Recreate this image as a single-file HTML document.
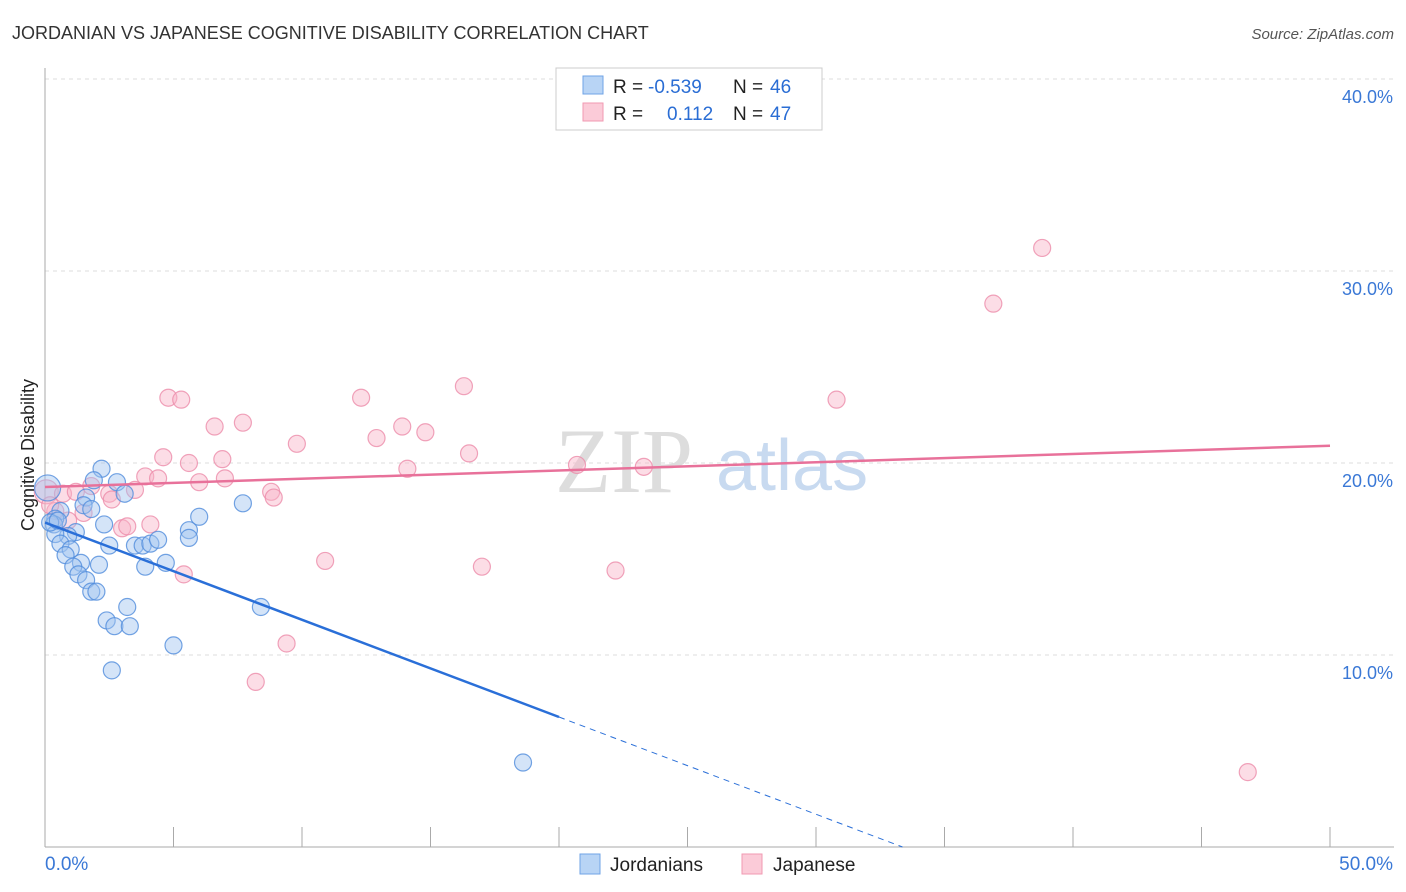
<!DOCTYPE html>
<html><head><meta charset="utf-8"><style>
body{margin:0;background:#fff;font-family:"Liberation Sans",sans-serif;}
#wrap{position:relative;width:1406px;height:892px;overflow:hidden;}
</style></head><body>
<div id="wrap">
<svg id="svg" width="1406" height="892" xmlns="http://www.w3.org/2000/svg">
<text x="12" y="39" font-size="18" fill="#333">JORDANIAN VS JAPANESE COGNITIVE DISABILITY CORRELATION CHART</text>
<text x="1394" y="39" font-size="15" fill="#555" text-anchor="end" font-style="italic">Source: ZipAtlas.com</text>
<text x="555" y="492" font-size="92" fill="#ddd" font-family="Liberation Serif">ZIP</text>
<text x="716" y="490" font-size="72" fill="#c8daf0">atlas</text>
<g id="grid"></g><g id="axes"></g><g id="pts"></g><g id="lines"></g>
<text transform="translate(34,455) rotate(-90)" font-size="18" fill="#222" text-anchor="middle">Cognitive Disability</text>
<g>
<rect x="556" y="68" width="266" height="62" fill="#fff" stroke="#ccc"/>
<rect x="583" y="76" width="20" height="18" fill="#b8d4f5" stroke="#6fa3e6"/>
<rect x="583" y="103" width="20" height="18" fill="#fbcbd8" stroke="#f09ab2"/>
<text y="93" font-size="19" fill="#222"><tspan x="613">R =</tspan><tspan x="648" fill="#2a6dd4">-0.539</tspan><tspan x="733">N =</tspan><tspan x="770" fill="#2a6dd4">46</tspan></text>
<text y="120" font-size="19" fill="#222"><tspan x="613">R =</tspan><tspan x="667" fill="#2a6dd4">0.112</tspan><tspan x="733">N =</tspan><tspan x="770" fill="#2a6dd4">47</tspan></text>
</g>
<g>
<rect x="580" y="854" width="20" height="20" fill="#b8d4f5" stroke="#6fa3e6"/>
<text x="610" y="871" font-size="19" fill="#222">Jordanians</text>
<rect x="742" y="854" width="20" height="20" fill="#fbcbd8" stroke="#f09ab2"/>
<text x="773" y="871" font-size="19" fill="#222">Japanese</text>
</g>
</svg>
</div>
<script>
const yTicks=[10,20,30,40];
const xTickLabels=["0.0%","50.0%"];
const blueX=[0.1,2.2,2.8,1.9,3.1,1.6,0.6,1.5,0.4,0.35,2.3,1.2,0.9,0.4,0.6,2.5,1.0,3.5,3.8,4.1,4.4,5.6,5.6,6.0,7.7,0.8,1.4,2.1,1.1,1.3,1.6,1.8,2.0,3.2,8.4,2.4,2.7,3.3,5.0,2.6,3.9,4.7,18.6,1.8,0.2,0.5];
const blueY=[18.7,19.7,19.0,19.1,18.4,18.2,17.5,17.8,17.1,16.8,16.8,16.4,16.2,16.3,15.8,15.7,15.5,15.7,15.7,15.8,16.0,16.5,16.1,17.2,17.9,15.2,14.8,14.7,14.6,14.2,13.9,13.3,13.3,12.5,12.5,11.8,11.5,11.5,10.5,9.2,14.6,14.8,4.4,17.6,16.9,17.0];
const pinkX=[0.05,38.8,36.9,16.3,4.8,5.3,12.3,7.7,6.6,13.9,14.8,12.9,9.8,4.6,6.9,5.6,16.5,14.1,20.7,23.3,30.8,3.9,4.4,6.0,7.0,8.8,8.9,1.8,2.5,0.7,1.2,2.6,3.5,0.4,1.5,0.9,3.0,3.2,4.1,5.4,10.9,17.0,22.2,9.4,8.2,46.8,0.2];
const pinkY=[18.5,31.2,28.3,24.0,23.4,23.3,23.4,22.1,21.9,21.9,21.6,21.3,21.0,20.3,20.2,20.0,20.5,19.7,19.9,19.8,23.3,19.3,19.2,19.0,19.2,18.5,18.2,18.8,18.4,18.4,18.5,18.1,18.6,17.5,17.4,17.0,16.6,16.7,16.8,14.2,14.9,14.6,14.4,10.6,8.6,3.9,17.8];
const blueTrend=[16.9,6.77,20];const pinkTrend=[18.75,20.9];
const sx=v=>45+v*25.7, sy=v=>847-v*19.2;
const NS="http://www.w3.org/2000/svg";
function mk(t,a,p){const e=document.createElementNS(NS,t);for(const k in a)e.setAttribute(k,a[k]);p.appendChild(e);return e;}
const grid=document.getElementById('grid'),axes=document.getElementById('axes'),pts=document.getElementById('pts'),lines=document.getElementById('lines');
yTicks.forEach(t=>{
const g=mk('line',{x1:45,x2:1394,y1:sy(t),y2:sy(t),stroke:'#ddd','stroke-dasharray':'4,4'},grid);


const l=mk('text',{x:1393,y:sy(t)+24,'font-size':18,fill:'#3a78d6','text-anchor':'end'},axes);l.textContent=t.toFixed(1)+'%';


});
const ya=mk('line',{x1:45,x2:45,y1:68,y2:847,stroke:'#aaa'},axes);


const xa=mk('line',{x1:45,x2:1394,y1:847,y2:847,stroke:'#aaa'},axes);


for(let i=0;i<=10;i++){const tk=mk('line',{x1:sx(i*5),x2:sx(i*5),y1:827,y2:847,stroke:'#aaa'},axes);

}
const xl0=mk('text',{x:45,y:870,'font-size':19,fill:'#3a78d6'},axes);xl0.textContent=xTickLabels[0];


const xl1=mk('text',{x:1393,y:870,'font-size':19,fill:'#3a78d6','text-anchor':'end'},axes);xl1.textContent=xTickLabels[1];


pinkX.forEach((x,i)=>{const c=mk('circle',{cx:sx(x),cy:sy(pinkY[i]),r:i==0?12:8.5,fill:'rgba(248,180,200,0.45)',stroke:'rgba(236,140,170,0.8)','stroke-width':1.2},pts);

});
blueX.forEach((x,i)=>{const c=mk('circle',{cx:sx(x),cy:sy(blueY[i]),r:i==0?13:8.5,fill:'rgba(160,196,240,0.45)',stroke:'rgba(80,140,220,0.8)','stroke-width':1.2},pts);

});
const slope=(blueTrend[1]-blueTrend[0])/blueTrend[2];
const xEnd=-blueTrend[0]/slope;
const b1=mk('line',{x1:sx(0),y1:sy(blueTrend[0]),x2:sx(blueTrend[2]),y2:sy(blueTrend[1]),stroke:'#2a6fd8','stroke-width':2.5},lines);


const b2=mk('line',{x1:sx(blueTrend[2]),y1:sy(blueTrend[1]),x2:sx(xEnd),y2:sy(0),stroke:'#2a6fd8','stroke-width':1,'stroke-dasharray':'6,5'},lines);


const p1=mk('line',{x1:sx(0),y1:sy(pinkTrend[0]),x2:sx(50),y2:sy(pinkTrend[1]),stroke:'#e8719a','stroke-width':2.5},lines);


</script>
</body></html>
